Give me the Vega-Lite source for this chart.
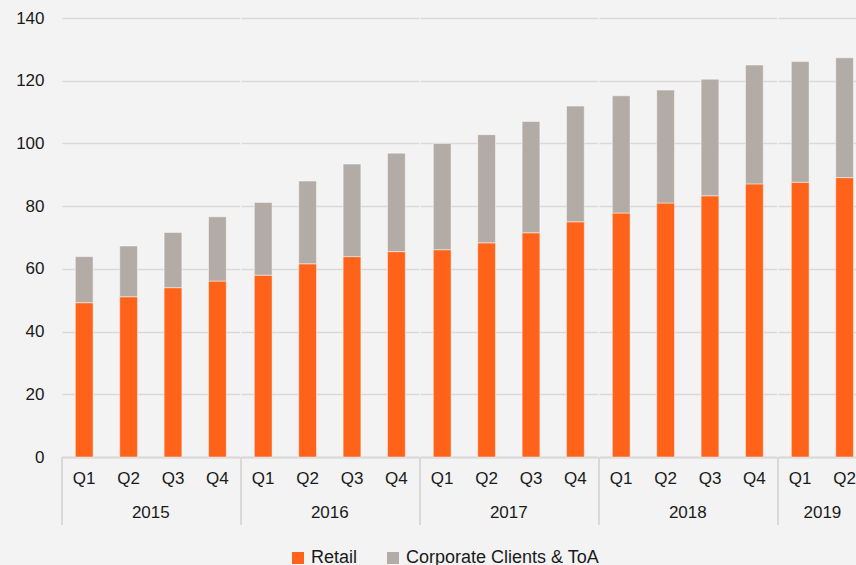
{
  "$schema": "https://vega.github.io/schema/vega-lite/v6.json",
  "background": "#f3f3f3",
  "padding": {"left": 15, "top": 9, "right": 0, "bottom": 0},
  "data": {
    "values": [
      {"year": "2015", "quarter": "Q1", "series": "Retail", "value": 49.2},
      {"year": "2015", "quarter": "Q1", "series": "Corporate Clients & ToA", "value": 14.7},
      {"year": "2015", "quarter": "Q2", "series": "Retail", "value": 51.1},
      {"year": "2015", "quarter": "Q2", "series": "Corporate Clients & ToA", "value": 16.2},
      {"year": "2015", "quarter": "Q3", "series": "Retail", "value": 54.0},
      {"year": "2015", "quarter": "Q3", "series": "Corporate Clients & ToA", "value": 17.6},
      {"year": "2015", "quarter": "Q4", "series": "Retail", "value": 56.1},
      {"year": "2015", "quarter": "Q4", "series": "Corporate Clients & ToA", "value": 20.5},
      {"year": "2016", "quarter": "Q1", "series": "Retail", "value": 58.0},
      {"year": "2016", "quarter": "Q1", "series": "Corporate Clients & ToA", "value": 23.2},
      {"year": "2016", "quarter": "Q2", "series": "Retail", "value": 61.6},
      {"year": "2016", "quarter": "Q2", "series": "Corporate Clients & ToA", "value": 26.4},
      {"year": "2016", "quarter": "Q3", "series": "Retail", "value": 63.9},
      {"year": "2016", "quarter": "Q3", "series": "Corporate Clients & ToA", "value": 29.5},
      {"year": "2016", "quarter": "Q4", "series": "Retail", "value": 65.5},
      {"year": "2016", "quarter": "Q4", "series": "Corporate Clients & ToA", "value": 31.4},
      {"year": "2017", "quarter": "Q1", "series": "Retail", "value": 66.1},
      {"year": "2017", "quarter": "Q1", "series": "Corporate Clients & ToA", "value": 33.9},
      {"year": "2017", "quarter": "Q2", "series": "Retail", "value": 68.3},
      {"year": "2017", "quarter": "Q2", "series": "Corporate Clients & ToA", "value": 34.5},
      {"year": "2017", "quarter": "Q3", "series": "Retail", "value": 71.5},
      {"year": "2017", "quarter": "Q3", "series": "Corporate Clients & ToA", "value": 35.5},
      {"year": "2017", "quarter": "Q4", "series": "Retail", "value": 75.0},
      {"year": "2017", "quarter": "Q4", "series": "Corporate Clients & ToA", "value": 36.9},
      {"year": "2018", "quarter": "Q1", "series": "Retail", "value": 77.8},
      {"year": "2018", "quarter": "Q1", "series": "Corporate Clients & ToA", "value": 37.4},
      {"year": "2018", "quarter": "Q2", "series": "Retail", "value": 81.0},
      {"year": "2018", "quarter": "Q2", "series": "Corporate Clients & ToA", "value": 36.0},
      {"year": "2018", "quarter": "Q3", "series": "Retail", "value": 83.3},
      {"year": "2018", "quarter": "Q3", "series": "Corporate Clients & ToA", "value": 37.2},
      {"year": "2018", "quarter": "Q4", "series": "Retail", "value": 87.1},
      {"year": "2018", "quarter": "Q4", "series": "Corporate Clients & ToA", "value": 37.9},
      {"year": "2019", "quarter": "Q1", "series": "Retail", "value": 87.6},
      {"year": "2019", "quarter": "Q1", "series": "Corporate Clients & ToA", "value": 38.5},
      {"year": "2019", "quarter": "Q2", "series": "Retail", "value": 89.1},
      {"year": "2019", "quarter": "Q2", "series": "Corporate Clients & ToA", "value": 38.2}
    ]
  },
  "facet": {
    "column": {
      "field": "year",
      "type": "ordinal",
      "header": {
        "title": null,
        "labelOrient": "bottom",
        "labelFont": "Liberation Sans",
        "labelFontSize": 17,
        "labelColor": "#1a1a1a",
        "labelPadding": -22
      }
    }
  },
  "spacing": 0,
  "resolve": {"scale": {"x": "independent"}},
  "spec": {
    "width": {"step": 44.4},
    "height": 439,
    "layer": [
      {
        "mark": {"type": "bar", "width": {"band": 0.4}, "stroke": "#ffffff", "strokeOpacity": 0.45, "strokeWidth": 1},
        "encoding": {
          "x": {
            "field": "quarter",
            "type": "ordinal",
            "scale": {"paddingInner": 0, "paddingOuter": 0},
            "axis": {
              "title": null,
              "ticks": false,
              "domainColor": "#d9d9d9",
              "domainWidth": 2,
              "labelAngle": 0,
              "labelPadding": 13,
              "labelFont": "Liberation Sans",
              "labelFontSize": 17,
              "labelColor": "#1a1a1a"
            }
          },
          "y": {
            "field": "value",
            "type": "quantitative",
            "aggregate": "sum",
            "stack": "zero",
            "scale": {"domain": [0, 140], "nice": false},
            "axis": {
              "title": null,
              "values": [0, 20, 40, 60, 80, 100, 120, 140],
              "domain": false,
              "ticks": false,
              "labelPadding": 17,
              "labelFont": "Liberation Sans",
              "labelFontSize": 17,
              "labelColor": "#1a1a1a",
              "gridColor": "#d9d9d9",
              "gridWidth": 1.5
            }
          },
          "color": {
            "field": "series",
            "type": "nominal",
            "scale": {"domain": ["Retail", "Corporate Clients & ToA"], "range": ["#ff6319", "#b3aca6"]},
            "legend": {
              "title": null,
              "orient": "none",
              "direction": "horizontal",
              "legendX": 227,
              "legendY": 531,
              "symbolType": "square",
              "symbolSize": 144,
              "symbolStrokeWidth": 0,
              "labelFont": "Liberation Sans",
              "labelFontSize": 18,
              "labelColor": "#1a1a1a",
              "labelLimit": 0,
              "labelOffset": 4,
              "columnPadding": 26
            }
          },
          "order": {"field": "series", "sort": "descending"}
        }
      },
      {
        "transform": [{"filter": "datum.quarter == 'Q1' && datum.series == 'Retail'"}],
        "mark": {"type": "rule", "color": "#d9d9d9", "strokeWidth": 2},
        "encoding": {
          "x": {"field": "quarter", "type": "ordinal", "bandPosition": 0},
          "y": {"datum": 0, "type": "quantitative", "scale": {"domain": [0, 140], "nice": false}},
          "y2": {"datum": -21.7}
        }
      }
    ]
  },
  "config": {
    "view": {"stroke": null},
    "font": "Liberation Sans"
  }
}
